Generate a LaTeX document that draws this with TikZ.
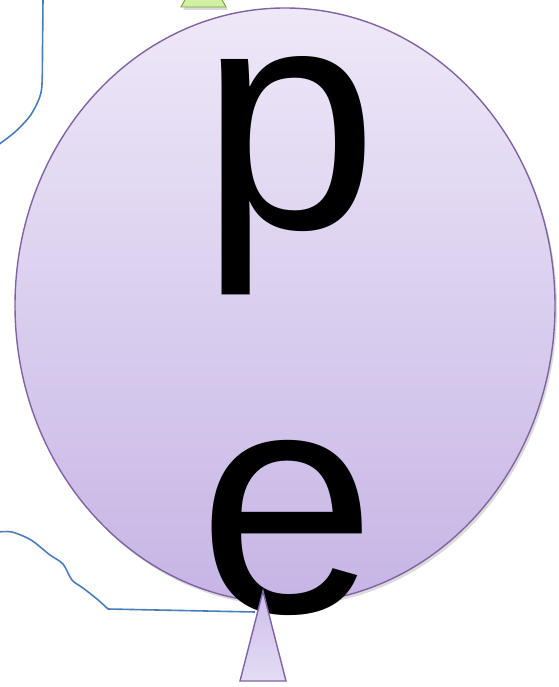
\documentclass[tikz,border=0pt]{standalone}
\usepackage{fontspec}
\setmainfont{Liberation Sans}
\usetikzlibrary{shadows}
\definecolor{purpleline}{RGB}{128,100,162}
\definecolor{elltop}{RGB}{238,232,248}
\definecolor{ellbot}{RGB}{198,181,229}
\definecolor{tritop}{RGB}{205,190,234}
\definecolor{tribot}{RGB}{228,220,244}
\definecolor{greenfill}{RGB}{208,240,160}
\definecolor{greenline}{RGB}{118,163,58}
\definecolor{blueline}{RGB}{74,126,187}
\tikzset{
  bigletter/.style={inner sep=0pt, anchor=base west, font=\fontsize{320}{320}\selectfont},
  connector/.style={draw=blueline, line width=1.6pt, line join=round},
  softshadow/.style={drop shadow={shadow xshift=2pt, shadow yshift=-3pt, opacity=0.14, fill=black}},
}
\begin{document}
\begin{tikzpicture}[x=1pt,y=-1pt]
\useasboundingbox (0,0) rectangle (558,687);
% green triangle at top
\path[softshadow, top color=greenfill!80!white, bottom color=greenfill, draw=greenline, line width=0.9pt]
  (181,7) -- (203.5,-33) -- (226,7) -- cycle;
% ellipse
\path[softshadow, top color=elltop, bottom color=ellbot, draw=purpleline, line width=1.4pt]
  (285,305.5) ellipse [x radius=270, y radius=297.5];
\coordinate (ellc) at (285,305.5);
% letters
\node[bigletter] (p) at (200,228) {p};
\node[bigletter] (e) at (198,612) {e};
% blue lines
\coordinate (topstart) at (43,-2);
\coordinate (topend) at (-2,145);
\draw[connector] plot[smooth, tension=0.5] coordinates {(43,-2) (42.6,40) (42,84) (39,99) (30,116) (15,132) (-2,145)};
\coordinate (tipleft) at (255,612);
\draw[connector] plot[smooth, tension=0.5] coordinates {(-2,532) (12,532) (31,540) (50,555) (63,564) (72,580) (83,588) (97,599) (108,609)} -- (tipleft);
% bottom triangle
\path[top color=tritop, bottom color=tribot, draw=purpleline, line width=1.4pt]
  (263,591) -- (286,681) -- (240,681) -- cycle;
\end{tikzpicture}
\end{document}
